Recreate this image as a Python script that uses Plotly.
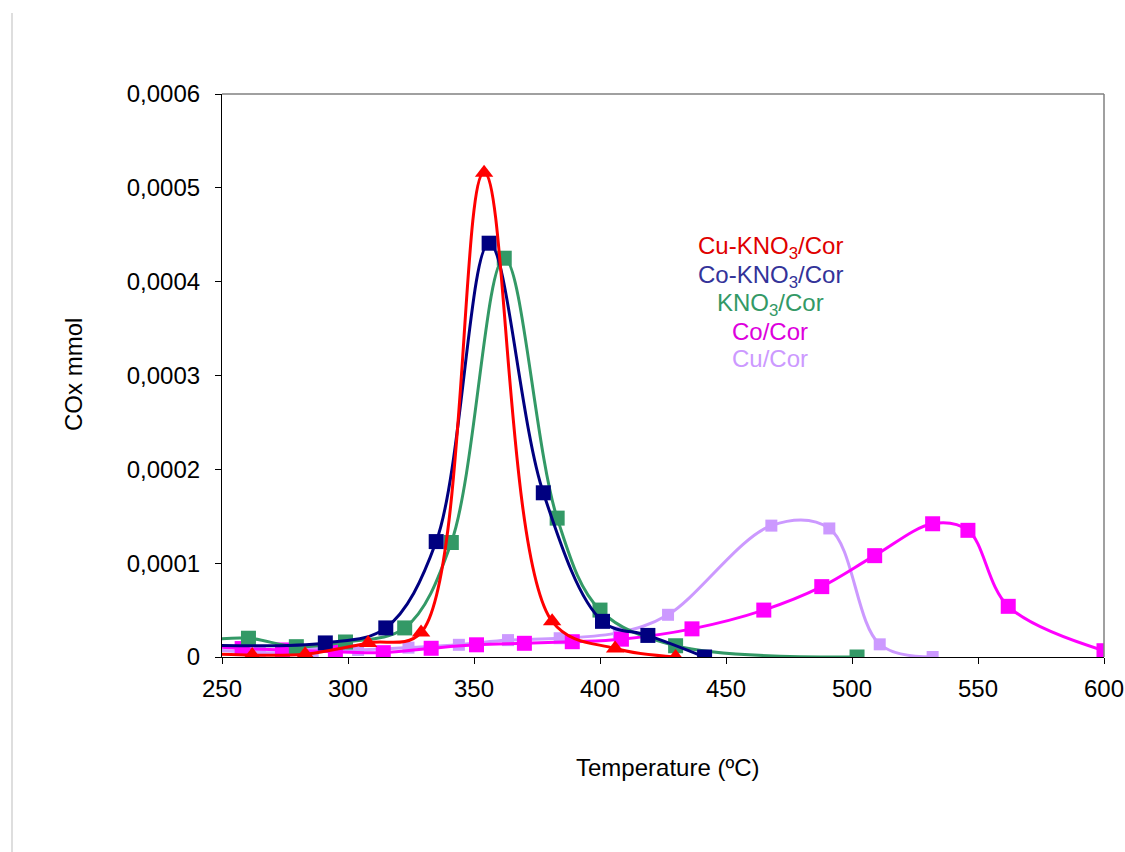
import plotly.graph_objects as go

# CO2/CO evolution (mmol) versus temperature for five catalysts
temp_cu_kno3 = [240, 262, 283, 308, 329, 354, 381, 406, 430]
cox_cu_kno3 = [0.000004, 0.000002, 0.000003, 0.000015, 0.000026, 0.000516, 0.000038, 0.000009, 0.0]

temp_co_kno3 = [240, 291, 315, 335, 356, 377.5, 401, 419, 441.5]
cox_co_kno3 = [0.000013, 0.000015, 0.000031, 0.000123, 0.000441, 0.000175, 0.000038, 0.000023, 0.0]

temp_kno3 = [243, 260.5, 279.5, 299, 322.5, 341, 362, 383, 400, 430, 502]
cox_kno3 = [0.000018, 0.00002, 0.000011, 0.000016, 0.000031, 0.000122, 0.000425, 0.000148, 0.00005, 0.000012, 0.0]

temp_co = [243, 258, 274, 295, 314, 333, 351, 370, 389, 408.5, 436.5, 465, 488, 509, 532, 546, 562, 600]
cox_co = [0.000012, 0.000009, 0.0000075, 0.0000057, 0.0000046, 0.0000093, 0.000013, 0.0000146,
          0.0000163, 0.000019, 0.00003, 0.00005, 0.000075, 0.000108, 0.000142, 0.000135, 0.000054, 0.0000067]

temp_cu = [245, 265, 286, 304, 324, 344, 363.5, 384, 407.5, 427, 468, 491, 511, 532]
cox_cu = [0.000008, 0.0000046, 0.0000057, 0.0000075, 0.00001, 0.000013, 0.000018, 0.00002,
          0.000026, 0.000045, 0.00014, 0.000137, 0.0000135, 0.0]

x_ticks = [250, 300, 350, 400, 450, 500, 550, 600]
y_ticks = [0, 0.0001, 0.0002, 0.0003, 0.0004, 0.0005, 0.0006]
y_tick_text = ["0", "0,0001", "0,0002", "0,0003", "0,0004", "0,0005", "0,0006"]

series = [
    ("Cu-KNO<sub>3</sub>/Cor", temp_cu_kno3, cox_cu_kno3, "#FF0000", "triangle-up", 16, "#E00000"),
    ("Co-KNO<sub>3</sub>/Cor", temp_co_kno3, cox_co_kno3, "#000080", "square", 15, "#333399"),
    ("KNO<sub>3</sub>/Cor", temp_kno3, cox_kno3, "#339966", "square", 15, "#339966"),
    ("Co/Cor", temp_co, cox_co, "#FF00FF", "square", 15, "#DD00DD"),
    ("Cu/Cor", temp_cu, cox_cu, "#CC99FF", "square", 12, "#CC99FF"),
]

fig = go.Figure()
# draw back-to-front so the red series sits on top
for name, xs, ys, color, symbol, size, _ in reversed(series):
    fig.add_trace(go.Scatter(
        x=xs, y=ys, name=name, mode="lines+markers",
        line=dict(color=color, width=3, shape="spline", smoothing=1.0),
        marker=dict(color=color, symbol=symbol, size=size, line=dict(width=0)),
        cliponaxis=True,
    ))

font = "Liberation Sans, Arial, sans-serif"
fsize = 24

# legend as stacked coloured labels
label_y = [248, 276.5, 304.5, 331, 358]
for (name, *_rest), py in zip(series, label_y):
    text_color = _rest[-1]
    fig.add_annotation(
        x=(770 - 222) / 882, y=(657 - py) / 563, xref="paper", yref="paper",
        text=name, showarrow=False, xanchor="center", yanchor="middle",
        font=dict(family=font, size=fsize, color=text_color),
    )

# axis titles
fig.add_annotation(x=(73 - 222) / 882, y=(657 - 375) / 563, xref="paper", yref="paper",
                   text="COx mmol", textangle=-90, showarrow=False,
                   xanchor="center", yanchor="middle",
                   font=dict(family=font, size=fsize, color="black"))
fig.add_annotation(x=(667 - 222) / 882, y=-(767 - 657) / 563, xref="paper", yref="paper",
                   text="Temperature (ºC)", showarrow=False,
                   xanchor="center", yanchor="middle",
                   font=dict(family=font, size=fsize, color="black"))

# grey frame on top and right of the plot area, plus the page line on the left
fig.add_shape(type="line", xref="paper", yref="paper", x0=0, x1=1, y0=1, y1=1,
              line=dict(color="#808080", width=1.5))
fig.add_shape(type="line", xref="paper", yref="paper", x0=1, x1=1, y0=0, y1=1,
              line=dict(color="#808080", width=1.5))
fig.add_shape(type="line", xref="paper", yref="paper",
              x0=(12 - 222) / 882, x1=(12 - 222) / 882,
              y0=1 + (94 - 13) / 563, y1=-(852 - 657) / 563,
              line=dict(color="#C8C8C8", width=1.2))

fig.update_layout(
    width=1125, height=852,
    margin=dict(l=222, r=21, t=94, b=195),
    paper_bgcolor="white", plot_bgcolor="white",
    showlegend=False,
    font=dict(family=font, size=fsize, color="black"),
)
fig.update_xaxes(
    range=[250, 600], tickvals=x_ticks, ticks="outside", ticklen=6, tickcolor="black",
    showline=True, linecolor="black", linewidth=1.2, showgrid=False, zeroline=False,
    tickfont=dict(family=font, size=fsize, color="black"), ticklabelstandoff=4,
    automargin=False,
)
fig.update_yaxes(
    range=[0, 0.0006], tickvals=y_ticks, ticktext=y_tick_text, ticks="outside", ticklen=6,
    tickcolor="black", showline=True, linecolor="black", linewidth=1.2, showgrid=False,
    zeroline=False, tickfont=dict(family=font, size=fsize, color="black"), ticklabelstandoff=10,
    automargin=False,
)

fig.write_html("out.html")
